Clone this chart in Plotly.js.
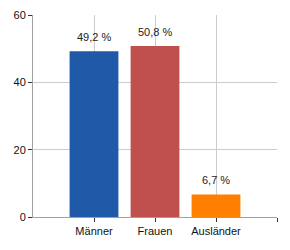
<!DOCTYPE html>
<html><head><meta charset="utf-8">
<script src="https://cdn.plot.ly/plotly-3.0.1.min.js"></script>
<style>body{margin:0;padding:0;background:#fff}#c{width:290px;height:250px}</style>
</head><body><div id="c"></div>
<script>
const categories = ["Männer", "Frauen", "Ausländer"];
const values = [49.2, 50.8, 6.7];
const labels = ["49,2 %", "50,8 %", "6,7 %"];
const colors = ["#1f59a8", "#c0504d", "#ff8000"];
const yTicks = [0, 20, 40, 60];

const trace = {
  type: "bar",
  x: [0, 1, 2],
  y: values,
  width: 0.8,
  marker: {color: colors, line: {width: 0}},
  hoverinfo: "none"
};
const annotations = values.map((v, i) => ({
  x: i, y: v, xref: "x", yref: "y",
  text: labels[i], showarrow: false,
  yanchor: "bottom", yshift: 6,
  font: {family: "Liberation Sans, Arial, sans-serif", size: 11, color: "#222"}
}));
const layout = {
  width: 290, height: 250,
  margin: {l: 33, r: 13, t: 15, b: 33},
  paper_bgcolor: "#fff", plot_bgcolor: "#fff",
  showlegend: false,
  font: {family: "Liberation Sans, Arial, sans-serif", size: 11, color: "#111"},
  xaxis: {
    range: [-1, 3], tickmode: "array", tickvals: [0, 1, 2, 3],
    ticktext: categories.concat([""]),
    showgrid: true, gridcolor: "#cccccc", gridwidth: 1,
    showline: true, linecolor: "#a0a0a0", linewidth: 1,
    ticks: "outside", ticklen: 4, tickcolor: "#333",
    zeroline: false, fixedrange: true
  },
  yaxis: {
    range: [0, 60], tickmode: "array", tickvals: yTicks,
    showgrid: true, gridcolor: "#cccccc", gridwidth: 1,
    showline: true, linecolor: "#a0a0a0", linewidth: 1,
    ticks: "outside", ticklen: 4, tickcolor: "#333",
    zeroline: false, fixedrange: true
  },
  annotations: annotations
};
Plotly.newPlot("c", [trace], layout, {displayModeBar: false, staticPlot: true});
</script></body></html>
